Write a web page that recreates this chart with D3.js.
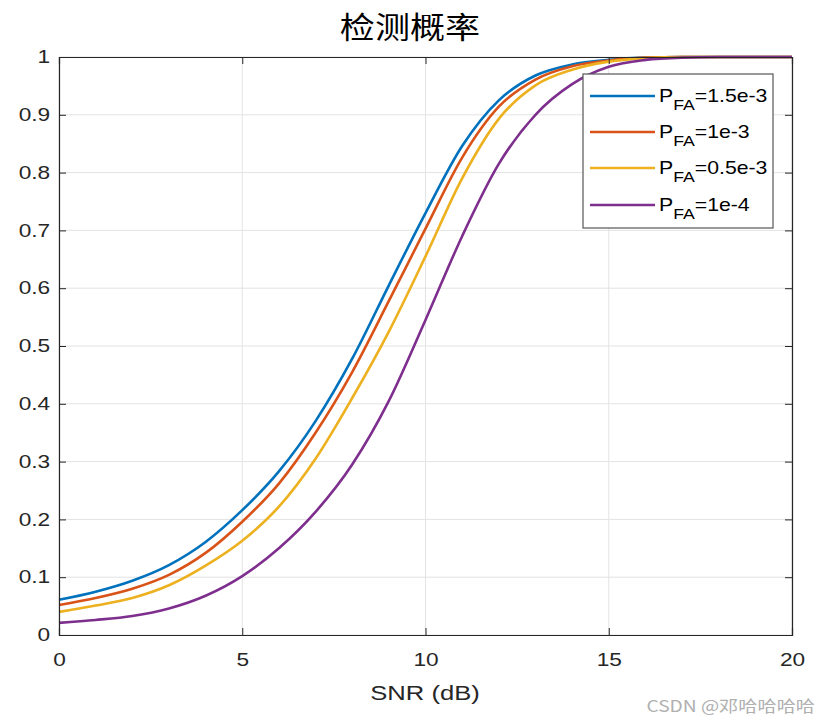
<!DOCTYPE html>
<html>
<head>
<meta charset="utf-8">
<script src="https://cdn.jsdelivr.net/npm/d3@7"></script>
<style>
  html, body { margin: 0; padding: 0; background: #fff; }
  svg { display: block; }
</style>
</head>
<body>
<svg id="chart" width="833" height="722"></svg>
<script>
// ---- data ----
const snrDb = [0,1,2,3,4,5,6,7,8,9,10,11,12,13,14,15,16,17,18,19,20];
const pd15e3 = [0.061,0.075,0.094,0.121,0.161,0.216,0.283,0.370,0.478,0.605,0.730,0.846,0.925,0.968,0.987,0.995,0.999,1,1,1,1];
const pd1e3  = [0.052,0.064,0.080,0.104,0.142,0.196,0.262,0.350,0.455,0.578,0.703,0.826,0.914,0.961,0.984,0.994,0.999,1,1,1,1];
const pd05e3 = [0.040,0.051,0.064,0.086,0.120,0.163,0.222,0.305,0.410,0.525,0.655,0.790,0.893,0.951,0.978,0.992,0.998,1,1,1,1];
const pd1e4  = [0.021,0.026,0.033,0.046,0.068,0.102,0.150,0.213,0.295,0.405,0.545,0.690,0.815,0.900,0.953,0.983,0.995,0.999,1,1,1];
const seriesNames = ["=1.5e-3","=1e-3","=0.5e-3","=1e-4"];
const seriesColors = ["#0072BD","#D95319","#EDB120","#7E2F8E"];
const xTicks = [0,5,10,15,20];
const yTicks = [0,0.1,0.2,0.3,0.4,0.5,0.6,0.7,0.8,0.9,1];
const titleText = "检测概率";
const xLabelText = "SNR (dB)";
const watermark = "CSDN @邓哈哈哈哈";

const allSeries = [pd15e3, pd1e3, pd05e3, pd1e4];

// ---- layout ----
const L = 59, R = 792, T = 57, B = 635;
const SX = 1.26; // horizontal stretch of text seen in the reference
const svg = d3.select("#chart");
const x = d3.scaleLinear().domain([0,20]).range([L,R]);
const y = d3.scaleLinear().domain([0,1]).range([B,T]);
const axisColor = "#262626";
const font = "'Liberation Sans', Arial, sans-serif";

// grid
const g = svg.append("g");
g.selectAll(".gx").data(xTicks).join("line")
  .attr("x1", d=>x(d)).attr("x2", d=>x(d)).attr("y1", T).attr("y2", B)
  .attr("stroke", "#e3e3e3").attr("stroke-width", 1);
g.selectAll(".gy").data(yTicks).join("line")
  .attr("x1", L).attr("x2", R).attr("y1", d=>y(d)).attr("y2", d=>y(d))
  .attr("stroke", "#e3e3e3").attr("stroke-width", 1);

// lines
const line = d3.line().x((d,i)=>x(snrDb[i])).y(d=>y(d)).curve(d3.curveMonotoneX);
svg.append("g").selectAll("path").data(allSeries).join("path")
  .attr("d", d=>line(d)).attr("fill","none")
  .attr("stroke", (d,i)=>seriesColors[i]).attr("stroke-width", 2.6)
  .attr("stroke-linejoin","round");

// axes
const tickLen = 7;
const xAxisB = d3.axisBottom(x).tickValues(xTicks).tickSize(-tickLen).tickPadding(18).tickFormat(d3.format("d"));
const xAxisT = d3.axisTop(x).tickValues(xTicks).tickSize(-tickLen).tickFormat("");
const yAxisL = d3.axisLeft(y).tickValues(yTicks).tickSize(-tickLen).tickPadding(7).tickFormat(d=>d===0||d===1?d3.format("d")(d):d3.format(".1f")(d));
const yAxisR = d3.axisRight(y).tickValues(yTicks).tickSize(-tickLen).tickFormat("");

function styleAxis(sel){
  sel.select(".domain").attr("stroke", axisColor).attr("stroke-width", 1.2);
  sel.selectAll(".tick line").attr("stroke", axisColor);
  sel.selectAll("text").attr("fill", axisColor).attr("font-family", font).attr("font-size", 18)
    .attr("transform", `scale(${SX},1)`);
}
svg.append("g").attr("transform", `translate(0,${B})`).call(xAxisB).call(styleAxis);
svg.append("g").attr("transform", `translate(0,${T})`).call(xAxisT).call(styleAxis);
svg.append("g").attr("transform", `translate(${L},0)`).call(yAxisL).call(styleAxis);
svg.append("g").attr("transform", `translate(${R},0)`).call(yAxisR).call(styleAxis);

// stretched text helper
function stext(px, py, sx, str){
  return svg.append("text").attr("transform", `translate(${px},${py}) scale(${sx},1)`).text(str);
}

// title and label
stext(410, 38, 1.17, titleText).attr("text-anchor","middle")
  .attr("font-family","'Noto Sans CJK SC', sans-serif").attr("font-size", 30).attr("fill","#000");
stext(425, 700, 1.28, xLabelText).attr("text-anchor","middle")
  .attr("font-family", font).attr("font-size", 20).attr("fill", axisColor);

// legend
const lg = svg.append("g");
lg.append("rect").attr("x", 583).attr("y", 74).attr("width", 190).attr("height", 154)
  .attr("fill","#fff").attr("stroke","#555").attr("stroke-width",1.2);
const rowY = [96, 132, 168, 205];
seriesNames.forEach((name,i)=>{
  lg.append("line").attr("x1", 590).attr("x2", 655).attr("y1", rowY[i]).attr("y2", rowY[i])
    .attr("stroke", seriesColors[i]).attr("stroke-width", 2.6);
  const t = lg.append("text").attr("transform", `translate(659,${rowY[i]+6}) scale(1.18,1)`)
    .attr("font-family", font).attr("font-size", 18).attr("fill","#000");
  t.append("tspan").text("P");
  t.append("tspan").attr("dy", 8).attr("font-size", 15).text("FA");
  t.append("tspan").attr("dy", -8).text(name);
});

// watermark
stext(815, 712, 1.2, watermark).attr("text-anchor","end")
  .attr("font-family","'Noto Sans CJK SC', sans-serif").attr("font-size", 16)
  .attr("fill","#b0b0b0");
</script>
</body>
</html>
